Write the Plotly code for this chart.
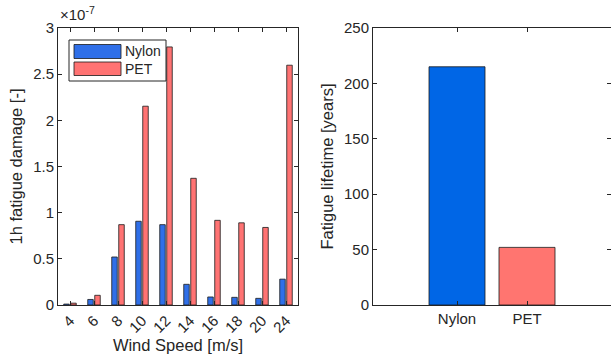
import plotly.graph_objects as go

# Wind speed bins [m/s]
wind_speeds = ["4", "6", "8", "10", "12", "14", "16", "18", "20", "24"]
# 1h fatigue damage, in units of 1e-7
nylon_damage = [0.01, 0.06, 0.52, 0.907, 0.87, 0.224, 0.087, 0.083, 0.072, 0.28]
pet_damage = [0.02, 0.105, 0.87, 2.153, 2.795, 1.372, 0.917, 0.89, 0.84, 2.597]
damage_ticks = [0, 0.5, 1, 1.5, 2, 2.5, 3]

# Fatigue lifetime [years]
materials = ["Nylon", "PET"]
lifetime = [215, 52]
lifetime_ticks = [0, 50, 100, 150, 200, 250]

NYLON_L = "#2f6fe8"
PET_L = "#ff7373"
NYLON_R = "#0066e6"
PET_R = "#ff7570"
EDGE = "#1a1a1a"
AX = "#262626"
FONT = "Liberation Sans"

W, H = 611, 363
def px(x):
    return x / W
def py(y):
    return 1 - y / H

fig = go.Figure()

bw = 0.23
fig.add_trace(go.Bar(
    x=wind_speeds, y=nylon_damage, name="Nylon", width=bw, offset=-0.146 - bw / 2,
    marker=dict(color=NYLON_L, line=dict(color=EDGE, width=0.8)),
    xaxis="x", yaxis="y", showlegend=False))
fig.add_trace(go.Bar(
    x=wind_speeds, y=pet_damage, name="PET", width=bw, offset=0.146 - bw / 2,
    marker=dict(color=PET_L, line=dict(color=EDGE, width=0.8)),
    xaxis="x", yaxis="y", showlegend=False))

fig.add_trace(go.Bar(
    x=materials, y=lifetime, width=0.8,
    marker=dict(color=[NYLON_R, PET_R], line=dict(color=EDGE, width=0.8)),
    xaxis="x2", yaxis="y2", showlegend=False))

ydom = [py(305), py(28)]
tickfont = dict(family=FONT, size=15, color=AX)
titlefont = dict(family=FONT, size=16.5, color=AX)
common = dict(ticks="inside", ticklen=4, tickcolor=AX, showline=True, linecolor=AX,
              mirror="ticks", showgrid=False, automargin=False)

fig.update_layout(
    width=W, height=H,
    margin=dict(l=0, r=0, t=0, b=0, autoexpand=False),
    paper_bgcolor="white", plot_bgcolor="white",
    barmode="overlay",
    font=dict(family=FONT, color=AX),
    xaxis=dict(
        domain=[px(58), px(298)], anchor="y", type="category",
        range=[-0.5, 9.5], tickangle=-45, tickfont=tickfont, linewidth=1.3,
        title=dict(text="Wind Speed [m/s]", font=titlefont, standoff=4), **common,
    ),
    yaxis=dict(
        domain=ydom, anchor="x", range=[0, 3], tickvals=damage_ticks,
        ticktext=["0", "0.5", "1", "1.5", "2", "2.5", "3"], tickfont=tickfont,
        linewidth=1, zeroline=False,
        title=dict(text="1h fatigue damage [-]", font=titlefont, standoff=6), **common,
    ),
    xaxis2=dict(
        domain=[px(373), 1], anchor="y2", type="category",
        range=[-1.2, 2.2], tickfont=tickfont, linewidth=1.3, **common,
    ),
    yaxis2=dict(
        domain=ydom, anchor="x2", range=[0, 250], tickvals=lifetime_ticks,
        tickfont=tickfont, linewidth=1, zeroline=False,
        title=dict(text="Fatigue lifetime [years]", font=titlefont, standoff=6), **common,
    ),
)

# Exponent label for the damage axis
fig.add_annotation(
    x=px(58), y=py(25), xref="paper", yref="paper", xanchor="left", yanchor="bottom",
    text="×10<sup>-7</sup>", showarrow=False, font=dict(family=FONT, size=15, color=AX))

# Legend box drawn in paper coordinates
shapes = [
    dict(type="rect", xref="paper", yref="paper", x0=px(69), x1=px(166), y0=py(81), y1=py(40),
         line=dict(color=AX, width=1), fillcolor="white", layer="above"),
    dict(type="rect", xref="paper", yref="paper", x0=px(74), x1=px(121), y0=py(58.5), y1=py(44.5),
         line=dict(color=EDGE, width=0.8), fillcolor=NYLON_L, layer="above"),
    dict(type="rect", xref="paper", yref="paper", x0=px(74), x1=px(121), y0=py(75.5), y1=py(62),
         line=dict(color=EDGE, width=0.8), fillcolor=PET_L, layer="above"),
]
fig.update_layout(shapes=shapes)
for label, yc in zip(materials, [51.5, 69]):
    fig.add_annotation(
        x=px(123), y=py(yc), xref="paper", yref="paper", xanchor="left", yanchor="middle",
        text=label, showarrow=False, font=dict(family=FONT, size=14, color=AX))

fig.write_html("out.html")
